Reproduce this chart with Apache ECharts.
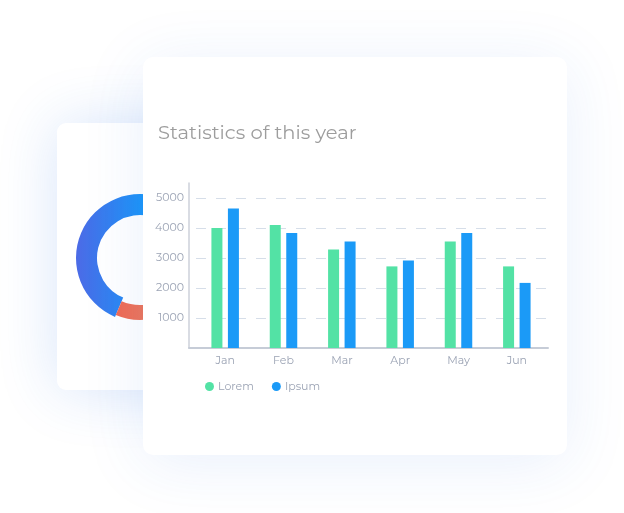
<!DOCTYPE html>
<html>
<head>
<meta charset="utf-8">
<script src="https://cdn.jsdelivr.net/npm/echarts@6/dist/echarts.min.js"></script>
<style>
  html, body { margin: 0; padding: 0; background: #fff; }
  #stage { position: relative; width: 624px; height: 513px; overflow: hidden; background: #fff; }
  .card { position: absolute; background: #fff; }
  #back { left: 57px; top: 123px; width: 200px; height: 267px; border-radius: 9px;
          box-shadow: 0 0 60px rgba(40, 110, 225, 0.18); }
  #front { left: 143px; top: 57px; width: 424px; height: 398px; border-radius: 10px;
           box-shadow: 0 8px 64px rgba(40, 110, 225, 0.10); }
  #donut, #bars { position: absolute; left: 0; top: 0; width: 100%; height: 100%; }
</style>
</head>
<body>
<div id="stage">
  <div class="card" id="back"><div id="donut"></div></div>
  <div class="card" id="front"><div id="bars"></div></div>
</div>
<script>
var months = ['Jan', 'Feb', 'Mar', 'Apr', 'May', 'Jun'];
var lorem = [4000, 4100, 3280, 2720, 3550, 2720];
var ipsum = [4650, 3830, 3550, 2920, 3830, 2170];
var yMin = 0, yMax = 5500, yStep = 1000;
var legendNames = ['Lorem', 'Ipsum'];
// donut on the card behind (only partly visible)
var donutBlue = 60, donutRed = 15, donutRest = 25;

var font = 'Montserrat, "Open Sans", sans-serif';
var labelColor = '#9ba3b4';

var donut = echarts.init(document.getElementById('donut'));
donut.setOption({
    animation: false,
    series: [{
        type: 'pie',
        silent: true,
        center: [83, 135],
        radius: [43, 64],
        startAngle: 247,
        label: { show: false },
        data: [
            { value: donutBlue, itemStyle: { color: new echarts.graphic.LinearGradient(19, 0, 86, 0, [
                { offset: 0, color: '#4c6ae6' },
                { offset: 1, color: '#1c96f8' }
            ], true) } },
            { value: donutRed + donutRest, itemStyle: { color: 'rgba(0,0,0,0)' } }
        ]
    }, {
        type: 'pie',
        silent: true,
        center: [83, 135],
        radius: [47, 62],
        startAngle: 247,
        label: { show: false },
        data: [
            { value: donutBlue + donutRest, itemStyle: { color: 'rgba(0,0,0,0)' } },
            { value: donutRed, itemStyle: { color: new echarts.graphic.LinearGradient(55, 0, 90, 0, [
                { offset: 0, color: '#f06853' },
                { offset: 1, color: '#ee775c' }
            ], true) } }
        ]
    }]
});

var bars = echarts.init(document.getElementById('bars'));
bars.setOption({
    animation: false,
    title: {
        text: 'Statistics of this year',
        left: 10,
        top: 61,
        textStyle: { fontFamily: font, fontSize: 19.5, fontWeight: 'normal', color: '#9d9d9d' }
    },
    legend: {
        data: legendNames,
        left: 57,
        top: 319,
        icon: 'circle',
        itemWidth: 9,
        itemHeight: 9,
        itemGap: 18,
        textStyle: { fontFamily: font, fontSize: 11, color: labelColor, padding: [0, 0, 0, -1] }
    },
    grid: [
        { left: 53, top: 126, width: 350, height: 165 },
        { left: 46, top: 126, width: 359, height: 165 }
    ],
    xAxis: [{
        type: 'category',
        gridIndex: 0,
        data: months,
        axisLine: { show: false },
        axisTick: { show: false },
        axisLabel: { fontFamily: font, fontSize: 11, color: labelColor, margin: 7 }
    }, {
        // only the base line, stretched under the y axis
        type: 'value',
        gridIndex: 1,
        axisLine: { show: true, lineStyle: { color: '#c6ccd7', width: 2 } },
        axisTick: { show: false },
        axisLabel: { show: false },
        splitLine: { show: false }
    }],
    yAxis: [{
        type: 'value',
        gridIndex: 0,
        min: yMin,
        max: yMax,
        interval: yStep,
        offset: 7,
        axisLine: { show: true, lineStyle: { color: '#ccd1da', width: 1.5 } },
        axisTick: { show: false },
        axisLabel: { fontFamily: font, fontSize: 11, color: labelColor, margin: 5,
                     showMaxLabel: false, showMinLabel: false,
                     formatter: function (v) { return String(v); } },
        splitLine: { show: true, showMinLine: false, showMaxLine: false,
                     lineStyle: { color: '#d6dee9', type: [10, 10], width: 1 } }
    }, {
        type: 'value',
        gridIndex: 1,
        show: false
    }],
    series: [{
        name: legendNames[0],
        type: 'bar',
        xAxisIndex: 0,
        yAxisIndex: 0,
        data: lorem,
        barWidth: 11,
        barGap: '50%',
        itemStyle: { color: '#53e2a5' }
    }, {
        name: legendNames[1],
        type: 'bar',
        xAxisIndex: 0,
        yAxisIndex: 0,
        data: ipsum,
        barWidth: 11,
        barGap: '50%',
        itemStyle: { color: '#1b9af7' }
    }]
});
</script>
</body>
</html>
